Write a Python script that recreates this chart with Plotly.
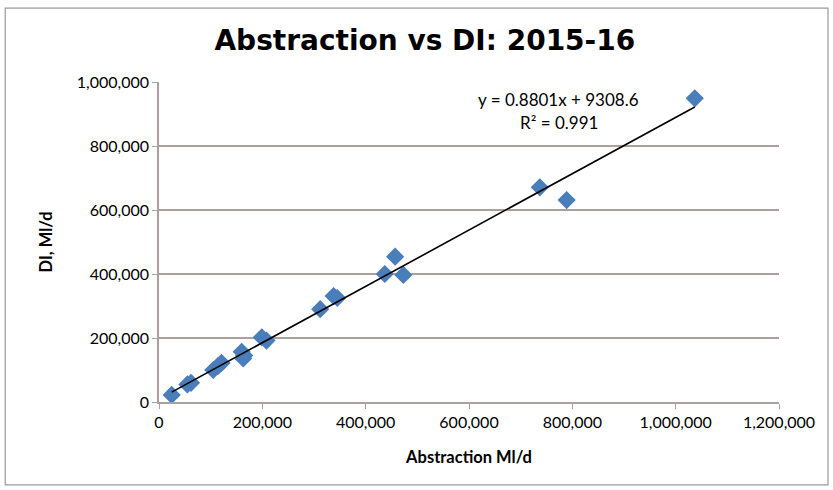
import plotly.graph_objects as go

# Abstraction (Ml/d) vs DI (Ml/d), 2015-16
abstraction = [24600, 55000, 62000, 105000, 114000, 121000, 160000, 163000, 165000,
               199000, 208000, 312000, 338000, 345000, 437000, 457000, 473000,
               737000, 789000, 1037000]
di = [22000, 55000, 60000, 100000, 112000, 122000, 157000, 136000, 145000,
      202000, 192000, 290000, 331000, 325000, 400000, 454000, 397000,
      671000, 631000, 949000]

slope = 0.8801
intercept = 9308.6
r2 = 0.991

x_ticks = [0, 200000, 400000, 600000, 800000, 1000000, 1200000]
y_ticks = [0, 200000, 400000, 600000, 800000, 1000000]

trend_x = [min(abstraction), max(abstraction)]
trend_y = [slope * v + intercept for v in trend_x]

fig = go.Figure()

fig.add_trace(go.Scatter(
    x=abstraction, y=di, mode="markers",
    marker=dict(symbol="diamond", size=14, color="#4a7ebb"),
    showlegend=False,
))

fig.add_trace(go.Scatter(
    x=trend_x, y=trend_y, mode="lines",
    line=dict(color="black", width=1.6),
    showlegend=False,
))

grid = "#ad9f9d"

fig.update_layout(
    width=833, height=490,
    margin=dict(l=159, r=54, t=82, b=88),
    paper_bgcolor="white", plot_bgcolor="white",
    font=dict(family="Lato, Open Sans, sans-serif", size=16, color="black"),
    title=dict(text="<b>Abstraction vs DI: 2015-16</b>",
               font=dict(family="DejaVu Sans, Verdana", size=28, color="black"),
               x=0.51, xanchor="center", y=0.918, yanchor="middle"),
    xaxis=dict(
        range=[0, 1200000], tickvals=x_ticks, tickformat=",d",
        showgrid=False, zeroline=False,
        showline=True, linecolor=grid, linewidth=1.5,
        ticks="outside", ticklen=5, tickcolor=grid,
        title=dict(text="<b>Abstraction Ml/d</b>", font=dict(size=16.5), standoff=21),
    ),
    yaxis=dict(
        range=[0, 1000000], tickvals=y_ticks, tickformat=",d",
        showgrid=True, gridcolor=grid, gridwidth=1.5, zeroline=False,
        showline=True, linecolor=grid, linewidth=1.5,
        ticks="outside", ticklen=5, tickcolor=grid,
        title=dict(text="<b>DI, Ml/d</b>", font=dict(size=16.5), standoff=20),
    ),
    shapes=[dict(type="rect", xref="paper", yref="paper",
                 x0=-0.248, x1=1.079, y0=-0.259, y1=1.231,
                 line=dict(color="#9a9a9a", width=1.2), layer="below")],
    annotations=[
        dict(x=0.645, y=0.944, xref="paper", yref="paper", showarrow=False,
             xanchor="center", yanchor="middle",
             text=f"y = {slope}x + {intercept}", font=dict(size=17)),
        dict(x=0.645, y=0.872, xref="paper", yref="paper", showarrow=False,
             xanchor="center", yanchor="middle",
             text=f"R² = {r2}", font=dict(size=17)),
    ],
)

fig.write_html("out.html", config={"displayModeBar": False},
               post_script="document.body.style.margin='0';")
